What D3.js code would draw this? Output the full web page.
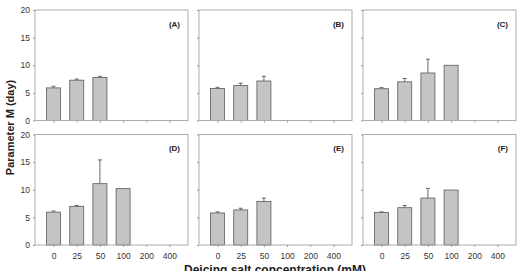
<!DOCTYPE html>
<html>
<head>
<meta charset="utf-8">
<script src="https://cdn.jsdelivr.net/npm/d3@7"></script>
<style>
  body { margin: 0; background: #fff; }
  svg { display: block; font-family: "Liberation Sans", Arial, sans-serif; }
</style>
</head>
<body>
<div id="chart"></div>
<script>
// concentrations (mM)
const categories = ['0', '25', '50', '100', '200', '400'];
const panelLabels = ['(A)', '(B)', '(C)', '(D)', '(E)', '(F)'];
const yTicks = [0, 5, 10, 15, 20];

// Parameter M means per panel (null = no bar)
const meansA = [5.9, 7.3, 7.8, null, null, null];
const meansB = [5.8, 6.35, 7.15, null, null, null];
const meansC = [5.75, 7.0, 8.6, 10.0, null, null];
const meansD = [5.95, 7.0, 11.1, 10.2, null, null];
const meansE = [5.8, 6.35, 7.9, null, null, null];
const meansF = [5.9, 6.75, 8.5, 9.95, null, null];

// upper error (SD)
const errA = [0.3, 0.2, 0.2, 0, 0, 0];
const errB = [0.2, 0.4, 0.85, 0, 0, 0];
const errC = [0.2, 0.6, 2.5, 0, 0, 0];
const errD = [0.2, 0.15, 4.3, 0, 0, 0];
const errE = [0.2, 0.3, 0.6, 0, 0, 0];
const errF = [0.1, 0.4, 1.75, 0, 0, 0];

const allMeans = [meansA, meansB, meansC, meansD, meansE, meansF];
const allErr = [errA, errB, errC, errD, errE, errF];

const W = 522, H = 271;
const colX = [35, 199, 363];
const rowY = [10, 134.5];
const pw = 153, ph = 110.5;

const svg = d3.select('#chart').append('svg')
  .attr('width', W).attr('height', H);

const x = d3.scalePoint().domain(categories).range([0, pw]).padding(0.8);
const y = d3.scaleLinear().domain([0, 20]).range([ph, 0]);
const barW = 14;

allMeans.forEach((means, i) => {
  const col = i % 3, row = Math.floor(i / 3);
  const g = svg.append('g')
    .attr('transform', `translate(${colX[col]},${rowY[row]})`);

  const data = means.map((m, j) => ({ c: categories[j], m, e: allErr[i][j] }))
    .filter(d => d.m !== null);

  // error bars (upper only)
  g.selectAll('line.err').data(data.filter(d => d.e > 0)).enter()
    .append('line')
    .attr('x1', d => x(d.c)).attr('x2', d => x(d.c))
    .attr('y1', d => y(d.m)).attr('y2', d => y(d.m + d.e))
    .attr('stroke', '#666').attr('stroke-width', 1);
  g.selectAll('line.cap').data(data.filter(d => d.e > 0)).enter()
    .append('line')
    .attr('x1', d => x(d.c) - 2).attr('x2', d => x(d.c) + 2)
    .attr('y1', d => y(d.m + d.e)).attr('y2', d => y(d.m + d.e))
    .attr('stroke', '#666').attr('stroke-width', 1);

  // bars
  g.selectAll('rect.bar').data(data).enter()
    .append('rect')
    .attr('x', d => x(d.c) - barW / 2)
    .attr('y', d => y(d.m))
    .attr('width', barW)
    .attr('height', d => y(0) - y(d.m))
    .attr('fill', '#c4c4c4')
    .attr('stroke', '#5a5a5a')
    .attr('stroke-width', 0.8);

  // frame
  g.append('rect')
    .attr('x', 0).attr('y', 0).attr('width', pw).attr('height', ph)
    .attr('fill', 'none').attr('stroke', '#ababab').attr('stroke-width', 1);

  // x axis ticks
  const xa = g.append('g').attr('transform', `translate(0,${ph})`)
    .call(d3.axisBottom(x).tickSize(2).tickPadding(6)
      .tickFormat(row === 1 ? (d => d) : () => ''));
  xa.select('.domain').remove();
  xa.selectAll('line').attr('stroke', '#999');
  xa.selectAll('text').attr('fill', '#333').attr('font-size', 8.5);

  // y axis ticks
  const ya = g.append('g')
    .call(d3.axisLeft(y).tickValues(yTicks).tickSize(2).tickPadding(3)
      .tickFormat(col === 0 ? d3.format('d') : () => ''));
  ya.select('.domain').remove();
  ya.selectAll('line').attr('stroke', '#999');
  ya.selectAll('text').attr('fill', '#333').attr('font-size', 8.5);

  // panel label
  g.append('text')
    .attr('x', pw - 8).attr('y', 16.5)
    .attr('text-anchor', 'end')
    .attr('font-size', 8).attr('font-weight', 'bold').attr('fill', '#222')
    .text(panelLabels[i]);
});

// axis titles
svg.append('text')
  .attr('transform', `translate(14,${(rowY[0] + rowY[1] + ph) / 2}) rotate(-90)`)
  .attr('text-anchor', 'middle')
  .attr('font-size', 11).attr('font-weight', 'bold').attr('fill', '#222')
  .text('Parameter M (day)');

svg.append('text')
  .attr('x', 275).attr('y', 274)
  .attr('text-anchor', 'middle')
  .attr('font-size', 12).attr('font-weight', 'bold').attr('fill', '#222')
  .text('Deicing salt concentration (mM)');
</script>
</body>
</html>
